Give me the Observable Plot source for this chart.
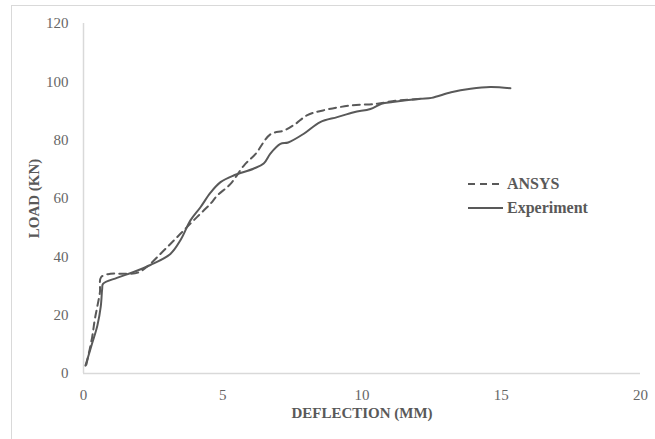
<!DOCTYPE html>
<html>
<head>
<meta charset="utf-8">
<script src="https://cdn.jsdelivr.net/npm/d3@7"></script>
<script src="https://cdn.jsdelivr.net/npm/@observablehq/plot@0.6"></script>
<style>
  html, body { margin: 0; padding: 0; background: #fff; }
  #wrap { position: relative; width: 655px; height: 439px; overflow: hidden; }
  #frame { position: absolute; left: 11px; top: 5px; right: -2px; bottom: -2px;
           border-top: 1.5px solid #d9d9d9; border-left: 1.5px solid #d9d9d9; }
  #chart { position: absolute; left: 0; top: 0; }
  #legend { position: absolute; left: 467px; top: 172px; font-family: "Liberation Serif", serif;
            font-weight: bold; font-size: 16px; color: #595959; }
  #legend .row { display: flex; align-items: center; height: 24px; }
  #legend svg { margin-right: 4px; }
</style>
</head>
<body>
<div id="wrap">
  <div id="frame"></div>
  <div id="chart"></div>
  <div id="legend"></div>
</div>
<script>
const seriesNames = ["ANSYS", "Experiment"];
const ansysX = [0.1, 0.31, 0.4, 0.49, 0.59, 0.63, 0.97, 1.45, 1.95, 2.4, 2.76, 3.12, 3.48, 3.84, 4.2, 4.56, 4.8, 5.28, 5.76, 6.18, 6.71, 7.2, 7.6, 8.04, 8.6, 9.6, 10.55, 11.2, 12.2];
const ansysY = [3, 12.4, 18.2, 22.7, 27.9, 33, 34.2, 34.2, 34.6, 37.6, 41, 44.4, 47.9, 51.4, 54.8, 58.2, 61, 65, 71.3, 75.3, 82, 83.3, 85.5, 88.6, 90.2, 91.9, 92.5, 93.5, 94.2];
const expX = [0.07, 0.3, 0.5, 0.62, 0.67, 0.7, 1.2, 1.8, 2.4, 3.12, 3.5, 3.84, 4.2, 4.56, 4.92, 5.39, 6.1, 6.47, 6.71, 7.07, 7.35, 7.91, 8.5, 9.11, 9.71, 10.3, 10.7, 11.1, 12.1, 12.5, 13.2, 13.9, 14.6, 15.33];
const expY = [2.7, 10, 16.5, 23, 29, 30.7, 32.8, 34.8, 37.2, 41, 46, 52.5, 57, 62, 65.6, 67.9, 70.2, 72, 75.4, 78.7, 79.2, 82.2, 86.2, 87.9, 89.6, 90.7, 92.5, 93.1, 94.2, 94.5, 96.4, 97.6, 98.2, 97.8];
const xTicks = [0, 5, 10, 15, 20];
const yTicks = [0, 20, 40, 60, 80, 100, 120];
const xTitle = "DEFLECTION (MM)";
const yTitle = "LOAD (KN)";

const ansys = ansysX.map((x, i) => ({x, y: ansysY[i]}));
const exp = expX.map((x, i) => ({x, y: expY[i]}));
const lineColor = "#595959";

const chart = Plot.plot({
  width: 655,
  height: 439,
  marginLeft: 83,
  marginRight: 15,
  marginTop: 23,
  marginBottom: 66,
  style: { fontFamily: "'Liberation Serif', serif", fontSize: "15px", color: "#595959", background: "transparent" },
  x: { domain: [0, 20] },
  y: { domain: [0, 120] },
  marks: [
    Plot.ruleY([0], { stroke: "#d9d9d9", strokeWidth: 1.5 }),
    Plot.ruleX([0], { y1: 0, y2: 120, stroke: "#d9d9d9", strokeWidth: 1.5 }),
    Plot.axisX({ ticks: xTicks, tickSize: 0, tickPadding: 16, fontSize: 15, fill: "#666",
                 label: null }),
    Plot.axisY({ ticks: yTicks, tickSize: 0, tickPadding: 15, fontSize: 15, fill: "#666",
                 label: null }),
    Plot.text([xTitle], { frameAnchor: "bottom", dy: 44, fontWeight: "bold", fontSize: 15, fill: "#595959" }),
    Plot.text([yTitle], { frameAnchor: "left", textAnchor: "middle", dx: -49, rotate: -90, fontWeight: "bold", fontSize: 15, fill: "#595959" }),
    Plot.line(ansys, { x: "x", y: "y", stroke: lineColor, strokeWidth: 2, strokeDasharray: "7,5", curve: "catmull-rom" }),
    Plot.line(exp, { x: "x", y: "y", stroke: lineColor, strokeWidth: 2, curve: "catmull-rom" })
  ]
});
document.getElementById("chart").appendChild(chart);

const legend = document.getElementById("legend");
seriesNames.forEach((name, i) => {
  const row = document.createElement("div");
  row.className = "row";
  row.innerHTML = `<svg width="36" height="10"><line x1="1" y1="5" x2="36" y2="5" stroke="${lineColor}" stroke-width="2" ${i === 0 ? 'stroke-dasharray="7,5"' : ''}/></svg><span>${name}</span>`;
  legend.appendChild(row);
});
</script>
</body>
</html>
